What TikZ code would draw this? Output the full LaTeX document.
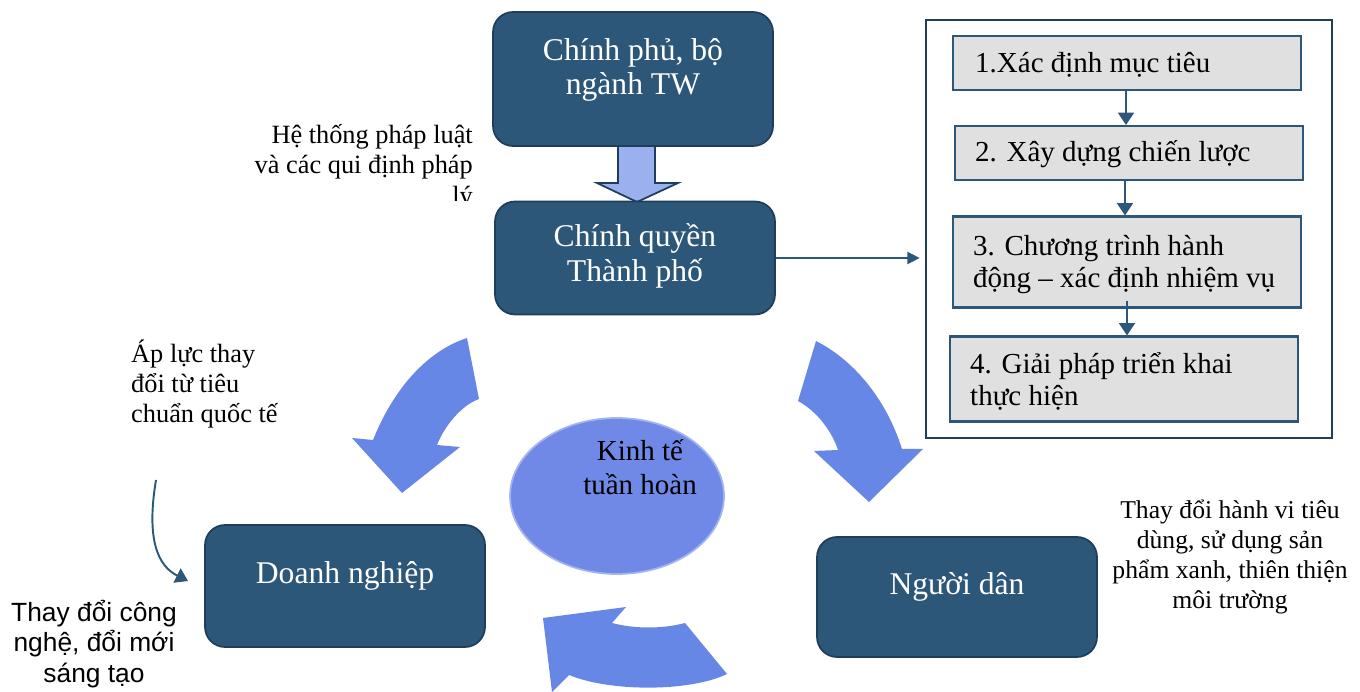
\documentclass[tikz,border=0pt]{standalone}
\usepackage{fontspec}
\setmainfont{Liberation Serif}
\newfontfamily\arialfont{Liberation Sans}
\usetikzlibrary{shapes.geometric,arrows.meta}
\definecolor{navy}{HTML}{2C5779}
\definecolor{navyline}{HTML}{1F3E5C}
\definecolor{paleblue}{HTML}{9BB0EE}
\definecolor{cycleblue}{HTML}{6787E6}
\definecolor{ovalblue}{HTML}{7189E6}
\definecolor{ovalline}{HTML}{A3B4F0}
\definecolor{stepgray}{HTML}{E0E0E0}
\begin{document}
\begin{tikzpicture}[x=0.02cm,y=-0.02cm,
    actor/.style={draw=navyline,line width=1pt,fill=navy,rounded corners=0.4cm,minimum width=5.6cm},
    actortext/.style={text=white,align=center,font=\fontsize{18}{19.8}\selectfont},
    stepbox/.style={draw=navy,line width=1.2pt,fill=stepgray,minimum width=6.96cm},
    steptext/.style={anchor=west,align=left,font=\fontsize{16.5}{18.2}\selectfont},
    note/.style={font=\fontsize{15}{17.3}\selectfont},
    steparrow/.style={draw=navy,line width=1.3pt,-{Triangle[width=9pt,length=7pt]}},
    cyclearrow/.style={fill=cycleblue}]
    \useasboundingbox (0,0) rectangle (1360,692);

    \fill[cyclearrow] (467,338) .. controls (430,350) and (395,385) .. (373,440) -- (352,438) -- (402,493)
        -- (460,447) -- (437,445) .. controls (445,425) and (462,405) .. (479,399) -- cycle;
    \fill[cyclearrow] (816,341) .. controls (850,358) and (885,395) .. (902,449) -- (923,449) -- (869,502)
        -- (814,451) -- (838,450) .. controls (832,432) and (818,412) .. (798,401) -- cycle;
    \fill[cyclearrow] (685,623) -- (727,674) .. controls (690,692) and (610,692) .. (569,675) -- (552,692)
        -- (543,618) -- (626,607) -- (612,623) .. controls (635,629) and (662,629) .. (685,623) -- cycle;

    \filldraw[fill=paleblue,draw=navyline,line width=1pt] (618,146) -- (655,146) -- (655,183) -- (678,183)
        -- (637,202) -- (597,183) -- (618,183) -- cycle;

    \node[actor,minimum height=2.68cm] (gov) at (633,79) {};
    \node[actortext] (govtxt) at (633,70) {Chính phủ, bộ\\ngành TW};
    \node[actor,minimum height=2.26cm] (city) at (635,258) {};
    \node[actortext] (citytxt) at (635,256) {Chính quyền\\Thành phố};
    \node[actor,minimum height=2.44cm] (firm) at (345,586) {};
    \node[actortext,anchor=base] (firmtxt) at (345,583) {Doanh nghiệp};
    \node[actor,minimum height=2.4cm] (people) at (957,597) {};
    \node[actortext,anchor=base] (peopletxt) at (957,595) {Người dân};

    \node[ellipse,draw=ovalline,line width=1pt,fill=ovalblue,minimum width=4.28cm,minimum height=3.12cm] (ce) at (617,496) {};
    \node[align=center,font=\fontsize{16.5}{19.3}\selectfont] (cetxt) at (640,467) {Kinh tế\\tuần hoàn};

    \node[draw=navyline,line width=1.3pt,minimum width=8.12cm,minimum height=8.36cm] (plan) at (1129,229) {};
    \node[stepbox,minimum height=1.08cm] (s1) at (1127,63) {};
    \node[stepbox,minimum height=1.08cm] (s2) at (1129,153) {};
    \node[stepbox,minimum height=1.82cm] (s3) at (1127,262) {};
    \node[stepbox,minimum height=1.7cm] (s4) at (1124,379) {};
    \node[steptext,anchor=base west] (s1txt) at (969,73) {1.Xác định mục tiêu};
    \node[steptext,anchor=base west] (s2txt) at (969,162) {2. Xây dựng chiến lược};
    \node[steptext] (s3txt) at (967,265) {3. Chương trình hành\\động -- xác định nhiệm vụ};
    \node[steptext] (s4txt) at (964,381) {4. Giải pháp triển khai\\thực hiện};
    \draw[steparrow] (1126,90) -- (1126,125);
    \draw[steparrow] (s2.south -| 1125,0) -- (s3.north -| 1125,0);
    \draw[steparrow] ([yshift=4.5pt]s3.south -| 1127,0) -- (s4.north -| 1127,0);

    \draw[navy,line width=0.8pt,-{Triangle[width=7pt,length=7pt]},shorten >=3pt] (city.east) -- (plan.west |- city.east);

    \begin{scope}
        \clip (200,100) rectangle (500,201);
        \node[note,align=right,anchor=east] (law) at (479,167) {Hệ thống pháp luật\\và các qui định pháp\\lý};
    \end{scope}
    \node[note,align=left,anchor=west] (intl) at (125,384) {Áp lực thay\\đổi từ tiêu\\chuẩn quốc tế};
    \node[font=\fontsize{14.6}{17}\selectfont,align=center] (habit) at (1230,557) {Thay đổi hành vi tiêu\\dùng, sử dụng sản\\phẩm xanh, thiên thiện\\môi trường};
    \node[align=center,font=\arialfont\fontsize{15}{17.2}\selectfont] (tech) at (94,644) {Thay đổi công\\nghệ, đổi mới\\sáng tạo};

    \coordinate (c0) at (156,480);
    \coordinate (c1) at (188,581);
    \draw[navy,line width=1.1pt,-{Triangle[width=9pt,length=7pt]}] (c0) .. controls (146,540) and (158,566) .. (c1);
\end{tikzpicture}
\end{document}
